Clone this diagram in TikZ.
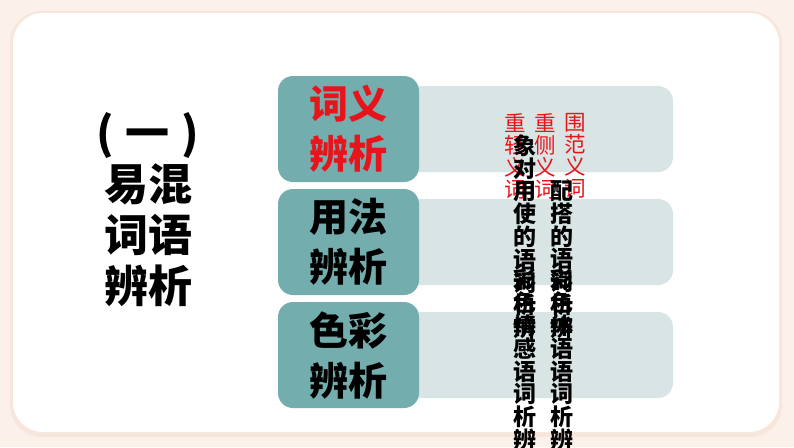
\documentclass[tikz,border=0pt]{standalone}
\usepackage{fontspec}
\newfontfamily\cjk{Noto Sans CJK SC}
\definecolor{outerbg}{HTML}{FCF1EA}
\definecolor{shadowc}{HTML}{F7E6DC}
\definecolor{tealbox}{HTML}{73ADAE}
\definecolor{lightbox}{HTML}{D9E5E5}
\definecolor{redtxt}{HTML}{E8141B}
\tikzset{
  headbox/.style={fill=tealbox, rounded corners=15pt, minimum width=141pt, minimum height=106pt, inner sep=0pt,
    align=center, font=\cjk\bfseries\fontsize{39}{50}\selectfont},
  bodybox/.style={fill=lightbox, rounded corners=15pt, minimum width=273pt, minimum height=86pt, inner sep=0pt},
  vtext/.style={inner sep=0pt, align=center, font=\cjk\bfseries\fontsize{23}{22.8}\selectfont},
  rtext/.style={inner sep=0pt, align=center, text=redtxt, font=\cjk\fontsize{21.5}{22}\selectfont},
  titletext/.style={inner sep=0pt, align=center, font=\cjk\bfseries\fontsize{44}{51}\selectfont}
}
\begin{document}
\begin{tikzpicture}[x=1pt,y=-1pt]
\useasboundingbox (0,0) rectangle (794,447);
\fill[outerbg] (0,0) rectangle (794,447);
\fill[shadowc, rounded corners=32pt] (10,11) rectangle (782,437);
\fill[white, rounded corners=30pt] (13,13) rectangle (779,432);

% title
\node[titletext] (title) at (148,210) {(\hspace{12pt}一\hspace{12pt})\\易混\\词语\\辨析};

% body boxes
\node[bodybox] (b1) at (536.5,129) {};
\node[bodybox] (b2) at (536.5,242) {};
\node[bodybox] (b3) at (536.5,355) {};

% head boxes
\node[headbox, text=redtxt] (h1) at (348.5,129) {词义\\辨析};
\node[headbox] (h2) at (348.5,242) {用法\\辨析};
\node[headbox] (h3) at (348.5,355) {色彩\\辨析};

% red vertical texts (read upwards)
\node[rtext] (r1) at (515,156) {重\\轻\\义\\词};
\node[rtext] (r2) at (545,156) {重\\侧\\义\\词};
\node[rtext] (r3) at (575,156) {围\\范\\义\\词};

% black vertical texts (read upwards)
\node[vtext] (a1) at (525,236.8) {象\\对\\用\\使\\的\\语\\词\\析\\辨};
\node[vtext] (a2) at (525,360) {彩\\色\\情\\感\\语\\词\\析\\辨};
\node[vtext] (c1) at (562,259.6) {配\\搭\\的\\语\\词\\析\\辨};
\node[vtext] (c2) at (562,360) {彩\\色\\体\\语\\语\\词\\析\\辨};
\end{tikzpicture}
\end{document}
